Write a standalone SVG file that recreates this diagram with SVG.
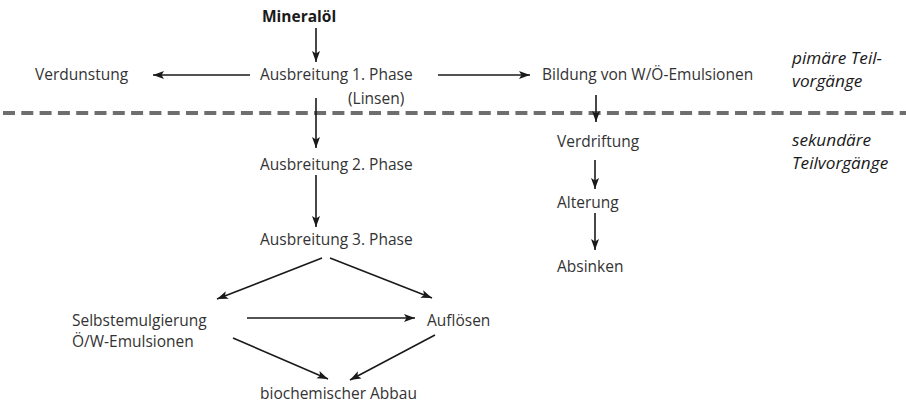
<svg xmlns="http://www.w3.org/2000/svg" width="906" height="404" viewBox="0 0 906 404">
<defs>
<marker id="ah" markerUnits="userSpaceOnUse" markerWidth="12" markerHeight="9" refX="11" refY="4" orient="auto">
<path d="M0,0 L11,4 L0,8 L2.5,4 z" fill="#1a1a1a"/>
</marker>
<style>
text{font-family:"Open Sans","Liberation Sans",sans-serif;font-size:15.5px;fill:#333}
.b{font-weight:bold;fill:#1a1a1a}
.i{font-style:italic;font-size:17.2px;fill:#1a1a1a}
.c line{stroke:#1a1a1a;stroke-width:1.6;marker-end:url(#ah)}
</style>
</defs>
<rect width="906" height="404" fill="#fff"/>
<line x1="3" y1="113" x2="906" y2="113" stroke="#6e6e6e" stroke-width="4" stroke-dasharray="12 6.3"/>
<g id="mineraloel"><text class="b" x="262" y="22">Mineralöl</text></g>
<g id="verdunstung"><text x="35" y="80">Verdunstung</text></g>
<g id="ausbreitung1"><text x="260" y="80">Ausbreitung 1. Phase</text><text x="348" y="104">(Linsen)</text></g>
<g id="bildung"><text x="542" y="80">Bildung von W/Ö-Emulsionen</text></g>
<g id="ausbreitung2"><text x="260" y="170">Ausbreitung 2. Phase</text></g>
<g id="ausbreitung3"><text x="260" y="245">Ausbreitung 3. Phase</text></g>
<g id="verdriftung"><text x="557" y="147">Verdriftung</text></g>
<g id="alterung"><text x="557" y="208">Alterung</text></g>
<g id="absinken"><text x="557" y="272">Absinken</text></g>
<g id="selbstemulgierung"><text x="72" y="326">Selbstemulgierung</text><text x="72" y="347">Ö/W-Emulsionen</text></g>
<g id="aufloesen"><text x="427" y="326">Auflösen</text></g>
<g id="abbau"><text x="260" y="399">biochemischer Abbau</text></g>
<g id="primaer"><text class="i" x="792" y="64">pimäre Teil-</text><text class="i" x="792" y="87">vorgänge</text></g>
<g id="sekundaer"><text class="i" x="792" y="146">sekundäre</text><text class="i" x="792" y="169">Teilvorgänge</text></g>
<g id="connectors" class="c">
<line x1="316" y1="28" x2="316" y2="62"/>
<line x1="250" y1="75" x2="153" y2="75"/>
<line x1="438" y1="75" x2="530" y2="75"/>
<line x1="316" y1="98" x2="316" y2="148"/>
<line x1="316" y1="175" x2="316" y2="227"/>
<line x1="596" y1="95" x2="596" y2="122"/>
<line x1="595" y1="160" x2="595" y2="189"/>
<line x1="595" y1="213" x2="595" y2="250"/>
<line x1="322" y1="258" x2="217" y2="299"/>
<line x1="330" y1="258" x2="432" y2="298"/>
<line x1="247" y1="318" x2="415" y2="318"/>
<line x1="233" y1="338" x2="328" y2="379"/>
<line x1="435" y1="335" x2="350" y2="380"/>
</g>
</svg>
